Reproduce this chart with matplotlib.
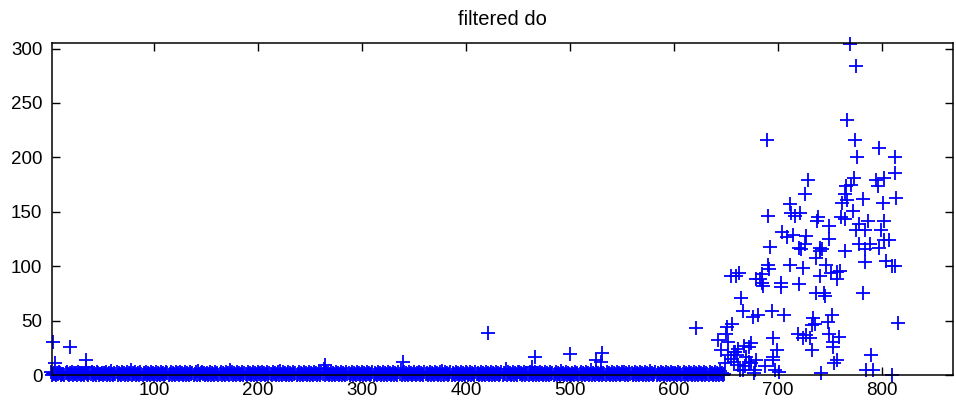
import numpy as np
import matplotlib
matplotlib.use('Agg')
import matplotlib.pyplot as plt

plt.rcParams['font.family'] = ['Liberation Sans', 'DejaVu Sans']

# quiet stretch, one reading per sample (digits 0-9)
base_rows = [
    "30121021320110231021302120312011023102130210320112",
    "02130120410213021031201302150213012031021302103120",
    "13021031201320130210312031201302103120130410231201",
    "20130210312013021031205130210312013021031201302103",
    "12031201302103120130410312013021031201302103120130",
    "21031201302160312013021031201302103120130210312013",
    "02103120130210312013021031201302103150130210312013",
    "10213021031201302103120130410312013021031201302103",
    "20130210312013021031201302103120130216031201302103",
    "31201302103120130210312013021031201302104120130210",
    "02103120130210312015021031201302103120130210312013",
    "13021031201302103120130210412013021031201302103120",
    "210312013021031201302103120130210312013021041201",
]
base_y = [int(c) for c in "".join(base_rows)]

# isolated spikes in the quiet stretch
spike_x = [3, 5, 19, 35, 35, 264, 339, 421, 463, 466, 500, 525, 530, 531, 621]
spike_y = [30, 11, 26, 14, 7, 9, 12, 39, 7, 17, 19, 14, 12, 20, 43]

# the noisy tail
burst_x = [642, 645, 649, 650, 651, 652, 652, 655, 656, 655, 657, 657, 658, 659,
           660, 661, 661, 662, 663, 664, 666, 666, 667, 668, 669, 672, 672, 674,
           674, 676, 677, 678, 679, 679, 681, 682, 684, 684, 685, 687, 689, 690,
           690, 691, 692, 694, 695, 695, 695, 697, 699, 701, 703, 703, 704, 706,
           708, 711, 711, 712, 714, 716, 719, 720, 720, 721, 722, 724, 724, 726,
           726, 727, 727, 729, 731, 732, 732, 733, 735, 736, 736, 737, 738, 740,
           740, 740, 741, 742, 744, 745, 746, 748, 749, 749, 749, 751, 752, 753,
           753, 754, 756, 756, 756, 758, 759, 760, 761, 764, 764, 764, 765, 766,
           766, 769, 770, 772, 773, 774, 775, 775, 776, 778, 778, 781, 781, 783,
           783, 783, 784, 786, 788, 789, 791, 794, 796, 797, 797, 799, 801, 802,
           802, 802, 804, 806, 809, 809, 812, 812, 812, 813, 815]
burst_y = [32, 23, 11, 38, 44, 18, 30, 91, 47, 15, 12, 21, 21, 91,
           18, 24, 9, 94, 5, 71, 59, 5, 27, 8, 17, 12, 26, 29,
           11, 53, 2, 5, 14, 88, 55, 88, 85, 93, 82, 8, 216, 101,
           146, 97, 118, 59, 34, 14, 17, 5, 23, 3, 85, 81, 131, 55,
           127, 157, 101, 149, 129, 146, 38, 84, 117, 149, 116, 98, 34, 120,
           166, 37, 128, 179, 34, 23, 46, 52, 47, 75, 108, 142, 145, 117,
           91, 114, 2, 116, 75, 73, 101, 49, 137, 125, 38, 94, 55, 30,
           26, 11, 95, 88, 14, 35, 96, 145, 158, 114, 143, 166, 174, 161,
           234, 304, 175, 151, 181, 216, 284, 133, 200, 139, 120, 162, 75, 116,
           104, 133, 5, 142, 120, 18, 5, 179, 174, 117, 209, 133, 158, 142,
           181, 124, 105, 124, 100, 0, 100, 200, 186, 163, 48]

x = np.concatenate([np.arange(1, len(base_y) + 1), spike_x, burst_x])
y = np.concatenate([base_y, spike_y, burst_y])

fig = plt.figure(figsize=(9.56, 4.05), dpi=100)
ax = fig.add_axes([0.0544, 0.074, 0.9425, 0.8195])
ax.plot(x, y, '+', color=(0, 0, 1), markersize=9.5, markeredgewidth=1.3,
        clip_on=False)

ax.set_xlim(2, 868)
ax.set_ylim(0, 305)
ax.set_xticks(range(100, 900, 100))
ax.set_yticks(range(0, 350, 50))
ax.tick_params(direction='in', length=6, width=1, top=True, right=True,
               labelsize=13.5, colors='black')
ax.tick_params(axis='y', pad=7)
ax.tick_params(axis='x', pad=5)
for s in ax.spines.values():
    s.set_linewidth(1.1)
ax.set_title('filtered do', fontsize=14.5, pad=13)

fig.savefig('out.png', dpi=100)
